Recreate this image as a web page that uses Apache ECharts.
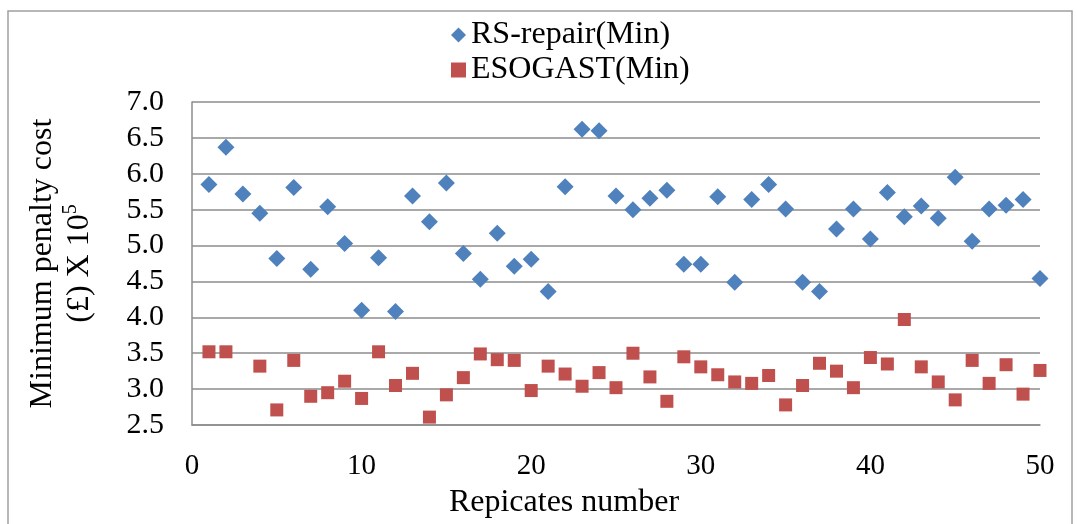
<!DOCTYPE html>
<html><head><meta charset="utf-8">
<script src="https://cdn.jsdelivr.net/npm/echarts@6/dist/echarts.min.js"></script>
<style>html,body{margin:0;padding:0;background:#fff}#c{width:1077px;height:524px}</style>
</head><body><div id="c"></div>
<script>
const replicates = [1,2,3,4,5,6,7,8,9,10,11,12,13,14,15,16,17,18,19,20,21,22,23,24,25,26,27,28,29,30,31,32,33,34,35,36,37,38,39,40,41,42,43,44,45,46,47,48,49,50];
const rsRepair = [5.85,6.37,5.72,5.45,4.82,5.81,4.67,5.54,5.03,4.10,4.83,4.08,5.69,5.33,5.87,4.89,4.53,5.17,4.71,4.81,4.36,5.82,6.62,6.60,5.69,5.50,5.66,5.77,4.74,4.74,5.68,4.49,5.64,5.85,5.51,4.49,4.36,5.23,5.51,5.09,5.74,5.40,5.55,5.38,5.95,5.06,5.51,5.56,5.64,4.54];
const esogast = [3.52,3.52,null,3.32,2.71,3.40,2.90,2.95,3.11,2.87,3.52,3.05,3.22,2.61,2.92,3.16,3.49,3.41,3.40,2.98,3.32,3.21,3.04,3.23,3.02,3.50,3.17,2.83,3.45,3.31,3.20,3.10,3.08,3.19,2.78,3.05,3.36,3.25,3.02,3.44,3.35,3.97,3.31,3.10,2.85,3.40,3.08,3.34,2.93,3.26];
const seriesNames = ['RS-repair(Min)','ESOGAST(Min)'];
const xTitle = 'Repicates number';

const font = '"Liberation Serif","Times New Roman",serif';
const chart = echarts.init(document.getElementById('c'));
const pair = arr => replicates.map((r,i)=>[r, arr[i] == null ? '-' : arr[i]]);
chart.setOption({
  animation:false,
  graphic:[{type:'rect',shape:{x:8,y:11,width:1064,height:540},style:{fill:'none',stroke:'#a0a0a0',lineWidth:1.5},silent:true}],
  legend:{orient:'vertical',left:446,top:14,itemGap:3,itemWidth:15,itemHeight:15,
    textStyle:{fontFamily:font,fontSize:32,color:'#000'},
    data:[{name:seriesNames[0],icon:'diamond'},{name:seriesNames[1],icon:'rect'}]},
  grid:{left:192,right:37,top:102,bottom:99},
  xAxis:{type:'value',min:0,max:50,interval:10,
    name:xTitle,nameLocation:'middle',nameGap:62,
    nameTextStyle:{fontFamily:font,fontSize:32,color:'#000',padding:[0,104,0,0]},
    axisLine:{show:true,lineStyle:{color:'#8c8c8c',width:1.5}},
    axisTick:{show:false},splitLine:{show:false},
    axisLabel:{fontFamily:font,fontSize:29,color:'#000',margin:27}},
  yAxis:{type:'value',min:2.5,max:7.0,interval:0.5,
    name:'{a|Minimum penalty cost}\n{a|(£) X 10}{s|5}',nameLocation:'middle',nameGap:94,nameRotate:90,
    nameTextStyle:{rich:{a:{fontFamily:font,fontSize:32,color:'#000',lineHeight:37},s:{fontFamily:font,fontSize:20,color:'#000',verticalAlign:'top',lineHeight:37,padding:[0,0,14,0]}}},
    axisLine:{show:true,lineStyle:{color:'#8c8c8c',width:1.5}},
    axisTick:{show:false},
    splitLine:{show:true,lineStyle:{color:'#8c8c8c',width:1.5}},
    axisLabel:{fontFamily:font,fontSize:30,color:'#000',margin:28,formatter:v=>v.toFixed(1)}},
  series:[
    {name:seriesNames[0],type:'scatter',symbol:'diamond',symbolSize:17,itemStyle:{color:'#4F81BD',opacity:1},data:pair(rsRepair)},
    {name:seriesNames[1],type:'scatter',symbol:'rect',symbolSize:13,itemStyle:{color:'#C0504D',opacity:1},data:pair(esogast)}
  ]
});
</script></body></html>
